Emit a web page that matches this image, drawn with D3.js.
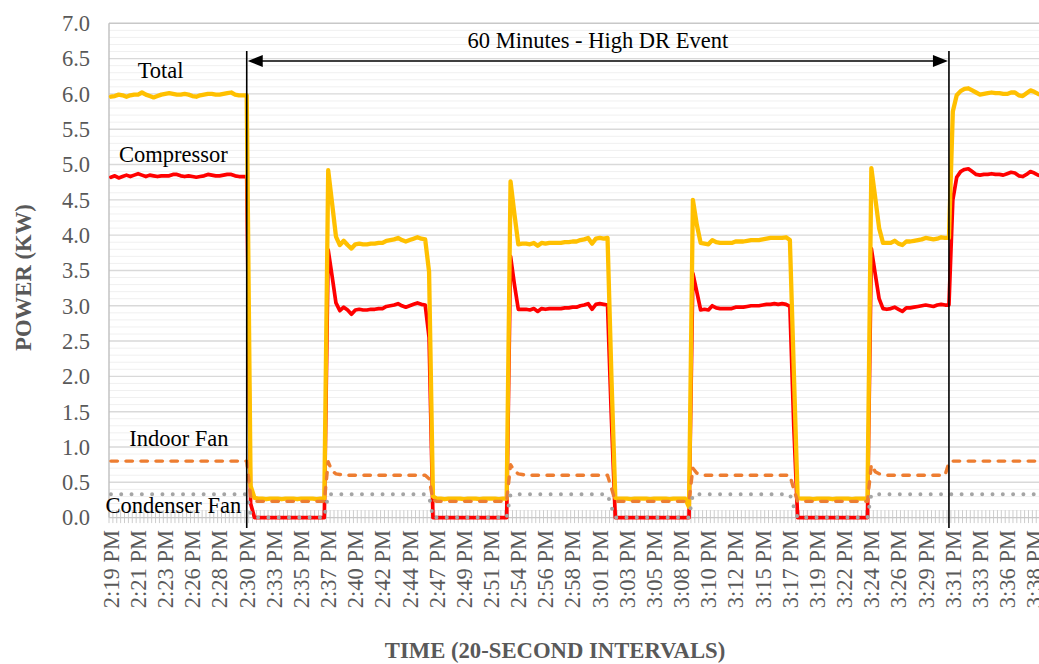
<!DOCTYPE html>
<html><head><meta charset="utf-8">
<script src="https://cdn.jsdelivr.net/npm/d3@7"></script>
<style>body{margin:0;background:#fff}svg{display:block}</style>
</head><body>
<svg id="chart" width="1039" height="664"></svg>
<script>
// ---------- DATA ----------
const tickLabels = ["2:19 PM","2:21 PM","2:23 PM","2:26 PM","2:28 PM","2:30 PM","2:33 PM","2:35 PM","2:37 PM","2:40 PM","2:42 PM","2:44 PM","2:47 PM","2:49 PM","2:51 PM","2:54 PM","2:56 PM","2:58 PM","3:01 PM","3:03 PM","3:05 PM","3:08 PM","3:10 PM","3:12 PM","3:15 PM","3:17 PM","3:19 PM","3:22 PM","3:24 PM","3:26 PM","3:29 PM","3:31 PM","3:33 PM","3:36 PM","3:38 PM"];
const tickEvery = 7;

const totalKW = [
 5.96,5.97,5.99,5.98,5.96,5.98,5.99,5.99,6.02,5.99,5.97,5.95,5.97,5.99,6.00,6.01,6.00,5.99,5.99,6.00,5.99,5.97,5.96,5.98,5.99,6.00,6.00,5.99,5.99,6.00,6.01,6.02,5.99,5.98,5.98,5.98,
 0.45,
 0.28,0.27,0.27,0.26,0.27,0.27,0.27,0.26,0.27,0.27,0.27,0.26,0.27,0.27,0.27,0.27,0.26,0.27,0.27,
 4.92,4.45,3.98,3.86,3.92,3.86,3.81,3.87,3.88,3.87,3.87,3.88,3.88,3.89,3.89,3.92,3.93,3.94,3.96,3.93,3.91,3.93,3.95,3.97,3.95,3.94,
 3.48,
 0.30,0.27,0.27,0.26,0.27,0.27,0.27,0.27,0.26,0.27,0.27,0.27,0.26,0.27,0.27,0.27,0.27,0.26,0.27,0.27,
 4.76,4.30,3.87,3.88,3.88,3.87,3.89,3.85,3.89,3.88,3.89,3.89,3.89,3.89,3.90,3.90,3.91,3.91,3.93,3.94,3.96,3.88,3.95,3.96,3.95,3.96,
 2.00,
 0.28,0.27,0.27,0.27,0.26,0.27,0.27,0.27,0.27,0.26,0.27,0.27,0.27,0.27,0.26,0.27,0.27,0.27,0.27,0.15,
 4.50,4.15,3.89,3.88,3.87,3.93,3.90,3.89,3.89,3.89,3.89,3.91,3.91,3.91,3.92,3.93,3.93,3.93,3.94,3.95,3.96,3.96,3.96,3.96,3.97,3.93,
 2.10,
 0.28,0.27,0.27,0.27,0.26,0.27,0.27,0.27,0.27,0.26,0.27,0.27,0.27,0.27,0.26,0.27,0.27,0.27,0.27,
 4.95,4.53,4.10,3.89,3.89,3.89,3.92,3.88,3.86,3.91,3.91,3.92,3.93,3.94,3.96,3.95,3.94,3.95,3.97,3.96,3.96,
 5.75,5.98,6.04,6.07,6.08,6.05,6.02,5.99,6.00,6.01,6.02,6.01,6.01,6.00,6.00,6.02,6.02,5.98,5.97,6.01,6.05,6.03,6.00,5.98
];

const compressorKW = [
 4.82,4.84,4.81,4.83,4.85,4.83,4.85,4.87,4.85,4.83,4.85,4.84,4.83,4.84,4.84,4.84,4.86,4.86,4.84,4.83,4.84,4.83,4.82,4.83,4.84,4.86,4.85,4.84,4.84,4.85,4.86,4.86,4.84,4.83,4.83,4.83,
 0.20,
 0.00,0.00,0.00,0.00,0.00,0.00,0.00,0.00,0.00,0.00,0.00,0.00,0.00,0.00,0.00,0.00,0.00,0.00,0.00,
 3.79,3.42,3.04,2.93,2.98,2.94,2.88,2.94,2.95,2.94,2.94,2.95,2.95,2.96,2.96,2.99,3.00,3.01,3.03,3.00,2.98,3.00,3.02,3.04,3.02,3.01,
 2.55,
 0.00,0.00,0.00,0.00,0.00,0.00,0.00,0.00,0.00,0.00,0.00,0.00,0.00,0.00,0.00,0.00,0.00,0.00,0.00,0.00,
 3.70,3.30,2.95,2.95,2.95,2.94,2.96,2.92,2.96,2.95,2.96,2.96,2.96,2.96,2.97,2.97,2.98,2.98,3.00,3.01,3.03,2.95,3.02,3.03,3.02,3.01,
 1.40,
 0.00,0.00,0.00,0.00,0.00,0.00,0.00,0.00,0.00,0.00,0.00,0.00,0.00,0.00,0.00,0.00,0.00,0.00,0.00,0.00,
 3.46,3.20,2.94,2.95,2.94,3.00,2.97,2.96,2.96,2.96,2.96,2.98,2.98,2.98,2.99,3.00,3.00,3.00,3.01,3.02,3.02,3.03,3.02,3.03,3.02,2.99,
 1.30,
 0.00,0.00,0.00,0.00,0.00,0.00,0.00,0.00,0.00,0.00,0.00,0.00,0.00,0.00,0.00,0.00,0.00,0.00,0.00,
 3.81,3.45,3.10,2.96,2.95,2.96,2.98,2.95,2.92,2.97,2.97,2.98,2.99,3.00,3.01,3.00,2.99,3.01,3.02,3.01,3.01,
 4.50,4.82,4.90,4.93,4.94,4.90,4.86,4.85,4.86,4.86,4.87,4.86,4.86,4.85,4.87,4.89,4.88,4.84,4.83,4.86,4.90,4.88,4.85,4.84
];

const indoorFanKW = [
 0.80,0.80,0.80,0.80,0.80,0.80,0.80,0.80,0.80,0.80,0.80,0.80,0.80,0.80,0.80,0.80,0.80,0.80,0.80,0.80,0.80,0.80,0.80,0.80,0.80,0.80,0.80,0.80,0.80,0.80,0.80,0.80,0.80,0.80,0.80,0.80,
 0.30,
 0.23,0.23,0.23,0.23,0.23,0.23,0.23,0.23,0.23,0.23,0.23,0.23,0.23,0.23,0.23,0.23,0.23,0.23,0.23,
 0.79,0.66,0.62,0.61,0.61,0.60,0.60,0.60,0.60,0.60,0.60,0.60,0.60,0.60,0.60,0.60,0.60,0.60,0.60,0.60,0.60,0.60,0.60,0.60,0.60,0.60,
 0.55,
 0.25,0.23,0.23,0.23,0.23,0.23,0.23,0.23,0.23,0.23,0.23,0.23,0.23,0.23,0.23,0.23,0.23,0.23,0.23,0.23,
 0.75,0.66,0.62,0.61,0.60,0.60,0.60,0.60,0.60,0.60,0.60,0.60,0.60,0.60,0.60,0.60,0.60,0.60,0.60,0.60,0.60,0.60,0.60,0.60,0.60,0.60,
 0.42,
 0.23,0.23,0.23,0.23,0.23,0.23,0.23,0.23,0.23,0.23,0.23,0.23,0.23,0.23,0.23,0.23,0.23,0.23,0.23,0.23,
 0.70,0.63,0.61,0.60,0.60,0.60,0.60,0.60,0.60,0.60,0.60,0.60,0.60,0.60,0.60,0.60,0.60,0.60,0.60,0.60,0.60,0.60,0.60,0.60,0.60,0.60,
 0.40,
 0.23,0.23,0.23,0.23,0.23,0.23,0.23,0.23,0.23,0.23,0.23,0.23,0.23,0.23,0.23,0.23,0.23,0.23,0.23,
 0.75,0.65,0.62,0.61,0.60,0.60,0.60,0.60,0.60,0.60,0.60,0.60,0.60,0.60,0.60,0.60,0.60,0.60,0.60,0.60,0.78,
 0.80,0.80,0.80,0.80,0.80,0.80,0.80,0.80,0.80,0.80,0.80,0.80,0.80,0.80,0.80,0.80,0.80,0.80,0.80,0.80,0.80,0.80,0.80,0.80
];

const condenserFanKW = [
 0.33,0.33,0.33,0.33,0.33,0.33,0.33,0.33,0.33,0.33,0.33,0.33,0.33,0.33,0.33,0.33,0.33,0.33,0.33,0.33,0.33,0.33,0.33,0.33,0.33,0.33,0.33,0.33,0.33,0.33,0.33,0.33,0.33,0.33,0.33,0.33,
 0.05,
 0.00,0.00,0.00,0.00,0.00,0.00,0.00,0.00,0.00,0.00,0.00,0.00,0.00,0.00,0.00,0.00,0.00,0.00,0.00,
 0.33,0.33,0.33,0.33,0.33,0.33,0.33,0.33,0.33,0.33,0.33,0.33,0.33,0.33,0.33,0.33,0.33,0.33,0.33,0.33,0.33,0.33,0.33,0.33,0.33,0.33,
 0.30,
 0.00,0.00,0.00,0.00,0.00,0.00,0.00,0.00,0.00,0.00,0.00,0.00,0.00,0.00,0.00,0.00,0.00,0.00,0.00,0.00,
 0.33,0.33,0.33,0.33,0.33,0.33,0.33,0.33,0.33,0.33,0.33,0.33,0.33,0.33,0.33,0.33,0.33,0.33,0.33,0.33,0.33,0.33,0.33,0.33,0.33,0.33,
 0.15,
 0.00,0.00,0.00,0.00,0.00,0.00,0.00,0.00,0.00,0.00,0.00,0.00,0.00,0.00,0.00,0.00,0.00,0.00,0.00,0.00,
 0.33,0.33,0.33,0.33,0.33,0.33,0.33,0.33,0.33,0.33,0.33,0.33,0.33,0.33,0.33,0.33,0.33,0.33,0.33,0.33,0.33,0.33,0.33,0.33,0.33,0.33,
 0.15,
 0.00,0.00,0.00,0.00,0.00,0.00,0.00,0.00,0.00,0.00,0.00,0.00,0.00,0.00,0.00,0.00,0.00,0.00,0.00,
 0.33,0.33,0.33,0.33,0.33,0.33,0.33,0.33,0.33,0.33,0.33,0.33,0.33,0.33,0.33,0.33,0.33,0.33,0.33,0.33,0.33,
 0.33,0.33,0.33,0.33,0.33,0.33,0.33,0.33,0.33,0.33,0.33,0.33,0.33,0.33,0.33,0.33,0.33,0.33,0.33,0.33,0.33,0.33,0.33,0.33
];

const yMajorTicks = [0,0.5,1,1.5,2,2.5,3,3.5,4,4.5,5,5.5,6,6.5,7];
const eventRange = [35, 216];          // category indices where the DR event starts / ends
const eventLabel = "60 Minutes - High DR Event";
const yTitle = "POWER (KW)";
const xTitle = "TIME (20-SECOND INTERVALS)";
const seriesNames = ["Compressor","Total","Indoor Fan","Condenser Fan"];
const labelAnchors = [[16.1,5.04],[12.8,6.23],[17.5,1.01],[16.1,0.065]];

// ---------- CHART ----------
const FONT = '"Liberation Serif","Times New Roman",serif';
const svg = d3.select("#chart");
svg.append("rect").attr("width",1039).attr("height",664).attr("fill","#fff");

const categories = totalKW.map((d,i)=>i);
const x = d3.scalePoint().domain(categories).range([109,1044]).padding(0.5);
const step = x.step();
const xi = v => x(0) + v*step;
const y = d3.scaleLinear().domain([0,7]).range([517.6,23.3]);

// minor gridlines
const minor = d3.range(1,70).map(k=>k/10).filter(v=>Math.abs(v*2-Math.round(v*2))>1e-6);
svg.append("g").selectAll("line").data(minor).join("line")
  .attr("x1",109).attr("x2",1044).attr("y1",d=>y(d)).attr("y2",d=>y(d))
  .attr("stroke","#F0F0F0").attr("stroke-width",1);
// major gridlines
svg.append("g").selectAll("line").data(yMajorTicks.filter(v=>v>0)).join("line")
  .attr("x1",109).attr("x2",1044).attr("y1",d=>y(d)).attr("y2",d=>y(d))
  .attr("stroke",d=>d===7?"#C8C8C8":"#D9D9D9").attr("stroke-width",1.4);

// x axis tick hatch (one tick per category boundary)
const bounds = categories.concat([categories.length]).map(i=>x(0)-step/2+i*step);
svg.append("g").selectAll("line").data(bounds).join("line")
  .attr("x1",d=>d).attr("x2",d=>d).attr("y1",y(0)-7.5).attr("y2",y(0)+5.5)
  .attr("stroke","#CDCDCD").attr("stroke-width",1);
// axis lines
svg.append("line").attr("x1",109).attr("x2",1044).attr("y1",y(0)).attr("y2",y(0))
  .attr("stroke","#C8C8C8").attr("stroke-width",1.2);
svg.append("line").attr("x1",109).attr("x2",109).attr("y1",y(7)).attr("y2",y(0))
  .attr("stroke","#BFBFBF").attr("stroke-width",1.4);

// y tick labels
svg.append("g").selectAll("text").data(yMajorTicks).join("text")
  .attr("x",90).attr("y",d=>y(d)).attr("dy","0.35em").attr("text-anchor","end")
  .style("font-family",FONT).attr("font-size","22.5px").attr("fill","#595959")
  .text(d=>d3.format(".1f")(d));

// x tick labels
svg.append("g").selectAll("text").data(tickLabels).join("text")
  .attr("transform",(d,k)=>`translate(${x(k*tickEvery)},530) rotate(-90)`)
  .attr("dy","0.35em").attr("text-anchor","end")
  .style("font-family",FONT).attr("font-size","22.5px").attr("fill","#595959")
  .text(d=>d);

// axis titles
svg.append("text").attr("transform","translate(31,277.5) rotate(-90)")
  .attr("text-anchor","middle").style("font-family",FONT).attr("font-weight","bold")
  .attr("font-size","22.7px").attr("fill","#595959").text(yTitle);
svg.append("text").attr("x",555).attr("y",658)
  .attr("text-anchor","middle").style("font-family",FONT).attr("font-weight","bold")
  .attr("font-size","22.7px").attr("fill","#595959").text(xTitle);

// series lines
const line = d3.line().x((d,i)=>x(i)).y(d=>y(d)).curve(d3.curveLinear);
const seriesData = [compressorKW, totalKW, indoorFanKW, condenserFanKW];
const styles = [
  {stroke:"#FF0000", w:3.7, dash:null},
  {stroke:"#FFC000", w:4.3, dash:null},
  {stroke:"#ED7D31", w:3.4, dash:"6.5,8.5"},
  {stroke:"#A5A5A5", w:4, dash:"0,10.3"}
];
seriesData.forEach((arr,k)=>{
  const s = styles[k];
  const p = svg.append("path").datum(arr).attr("d",line)
    .attr("fill","none").attr("stroke",s.stroke).attr("stroke-width",s.w)
    .attr("stroke-linejoin","round").attr("stroke-linecap","round");
  if (s.dash) p.attr("stroke-dasharray",s.dash);
});

// series labels
svg.append("g").selectAll("text").data(seriesNames).join("text")
  .attr("x",(d,k)=>xi(labelAnchors[k][0])).attr("y",(d,k)=>y(labelAnchors[k][1]))
  .attr("text-anchor","middle").style("font-family",FONT).attr("font-size","22.5px")
  .attr("fill","#000").text(d=>d);

// event annotation
const ex0 = x(eventRange[0]), ex1 = x(eventRange[1]);
const ann = svg.append("g");
[ex0,ex1].forEach(v=>{
  ann.append("line").attr("x1",v).attr("x2",v).attr("y1",51).attr("y2",528)
    .attr("stroke","#000").attr("stroke-width",1.6);
});
const ay = 61;
ann.append("line").attr("x1",ex0+12).attr("x2",ex1-12).attr("y1",ay).attr("y2",ay)
  .attr("stroke","#000").attr("stroke-width",1.6);
ann.append("path").attr("d",`M${ex0+1},${ay} L${ex0+16},${ay-6} L${ex0+16},${ay+6} Z`).attr("fill","#000");
ann.append("path").attr("d",`M${ex1-1},${ay} L${ex1-16},${ay-6} L${ex1-16},${ay+6} Z`).attr("fill","#000");
ann.append("text").attr("x",(ex0+ex1)/2).attr("y",48).attr("text-anchor","middle")
  .style("font-family",FONT).attr("font-size","22.5px").attr("fill","#000").text(eventLabel);
</script>
</body></html>
